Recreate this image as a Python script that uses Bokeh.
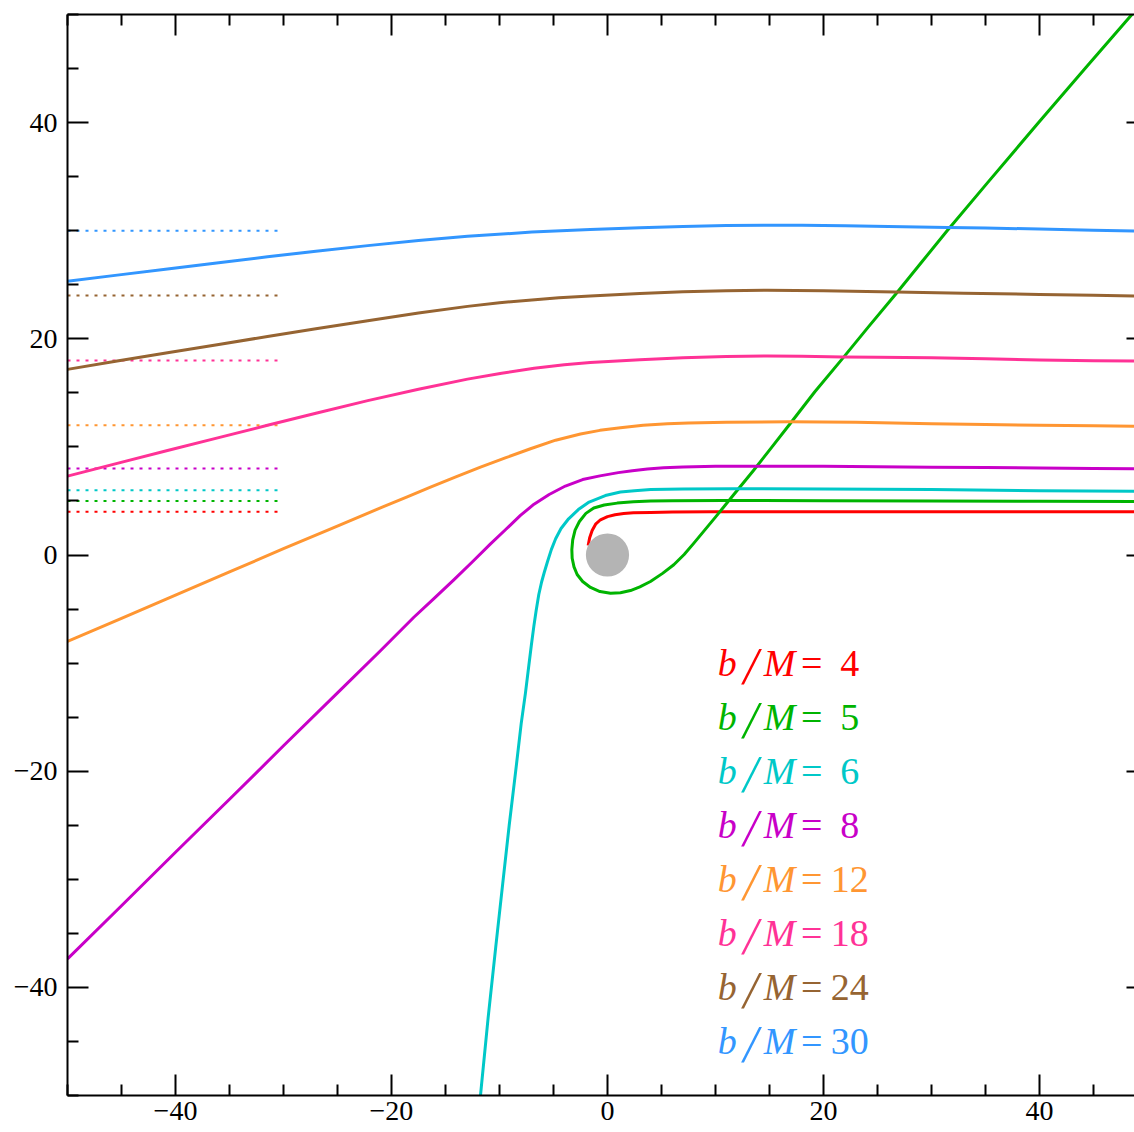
from bokeh.plotting import figure
from bokeh.models import Range1d, LinearAxis, FixedTicker, ColumnDataSource
from bokeh.embed import file_html
from bokeh.resources import INLINE
from bokeh.core.properties import value

# ---------------- data ----------------
impact = [4, 5, 6, 8, 12, 18, 24, 30]
colors = ["#ff0000", "#00b400", "#00c8c8", "#c800c8",
          "#ff9632", "#ff3296", "#966432", "#3296ff"]

tick_values = [-40, -20, 0, 20, 40]
tick_labels = ["\u221240", "\u221220", "0", "20", "40"]
minor_values = [-50, -45, -35, -30, -25, -15, -10, -5, 5, 10, 15, 25, 30, 35, 45, 50]

guide_x0 = [-50] * 8
guide_x1 = [-30] * 8

hole_x = [0.0]
hole_y = [0.0]
hole_r = 2.0

b4_x = [50, 30, 20, 9.5, 6.0, 4.0, 2.4, 1.5, 0.7, 0.0, -0.65, -1.1, -1.42,
        -1.65, -1.79]
b4_y = [4.0, 4.0, 4.0, 4.0, 3.97, 3.93, 3.9, 3.83, 3.72, 3.55, 3.26, 2.85,
        2.27, 1.6, 0.88]

b5_x = [50, 40, 30, 20, 10.7, 6.0, 4.0, 2.4, 0.9, -0.3, -1.27, -2.0, -2.6,
        -3.0, -3.22, -3.3, -3.27, -3.1, -2.81, -2.3, -1.57, -0.7, 0.28, 1.2,
        2.13, 3.0, 3.98, 5.1, 6.14, 7.1, 8.0, 9.0, 10.0, 11.7, 13.5, 15.2,
        16.8, 19.2, 21.7, 24.2, 26.7, 29.1, 31.45, 35.2, 40.0, 44.3, 48.6, 50.0]
b5_y = [4.95, 4.97, 5.0, 5.03, 5.05, 5.02, 5.0, 4.92, 4.8, 4.62, 4.35, 3.85,
        3.1, 2.3, 1.4, 0.5, -0.3, -1.1, -1.8, -2.45, -3.0, -3.38, -3.54, -3.5,
        -3.29, -2.95, -2.45, -1.7, -0.9, 0.05, 1.1, 2.3, 3.5, 5.6, 7.8, 9.95,
        12.0, 15.1, 18.1, 21.15, 24.15, 27.1, 30.0, 34.45, 40.1, 45.1, 50.05,
        51.7]

b6_x = [50, 40, 30, 20, 11.7, 7.0, 4.0, 2.5, 1.2, -0.2, -1.7, -2.7, -3.6,
        -4.3, -4.8, -5.2, -5.55, -5.85, -6.1, -6.36, -6.6, -6.82, -7.05, -7.28,
        -7.6, -7.99, -8.5, -9.1, -9.7, -10.35, -11.05, -11.76]
b6_y = [5.9, 5.95, 6.05, 6.1, 6.13, 6.1, 6.05, 5.95, 5.82, 5.5, 4.9, 4.2,
        3.35, 2.45, 1.5, 0.5, -0.6, -1.6, -2.5, -3.65, -5.1, -6.6, -8.35,
        -10.2, -12.8, -15.6, -20.0, -25.0, -30.4, -36.3, -42.8, -50.0]

b8_x = [50, 45, 40, 35, 30, 25, 20, 13.4, 10, 7.0, 5.2, 3.7, 2.3, 1.0, -0.7,
        -2.3, -3.9, -5.4, -6.8, -8.06, -9.4, -10.83, -12.5, -14.23, -16.1,
        -17.93, -21.0, -25.0, -30.0, -35.0, -40.0, -45.0, -50.0]
b8_y = [7.96, 8.0, 8.05, 8.09, 8.12, 8.17, 8.2, 8.22, 8.2, 8.15, 8.07, 7.95,
        7.8, 7.62, 7.32, 6.98, 6.38, 5.6, 4.7, 3.66, 2.38, 1.03, -0.62, -2.3,
        -4.05, -5.76, -8.84, -12.75, -17.65, -22.6, -27.5, -32.45, -37.36]

b12_x = [50, 45, 40, 35, 30, 23, 16.8, 11, 7.5, 5.55, 3.3, 1.2, -0.7, -2.5,
         -4.8, -7.13, -9.4, -11.76, -14.1, -16.39, -18.6, -20.8, -25.4, -30.0,
         -35.0, -40.0, -45.0, -50.0]
b12_y = [11.9, 11.95, 12.0, 12.08, 12.15, 12.27, 12.33, 12.28, 12.22, 12.15,
         12.0, 11.78, 11.53, 11.2, 10.62, 9.83, 9.0, 8.13, 7.2, 6.28, 5.35,
         4.45, 2.52, 0.58, -1.56, -3.72, -5.86, -8.0]

b18_x = [50, 45, 40, 35, 30, 25, 21.8, 18, 14.8, 11, 7.0, 3.0, -1.6, -4.0,
         -6.79, -9.8, -12.96, -17.5, -22.2, -27.0, -31.48, -36.0, -40.74,
         -45.4, -50.0]
b18_y = [17.92, 17.98, 18.05, 18.15, 18.25, 18.3, 18.32, 18.38, 18.41, 18.37,
         18.25, 18.07, 17.8, 17.6, 17.27, 16.82, 16.27, 15.34, 14.28, 13.12,
         12.0, 10.86, 9.66, 8.48, 7.3]

b24_x = [50, 45, 40, 33, 26.7, 20, 14.8, 11, 7.0, 3.0, -1.6, -4.5, -7.0,
         -10.0, -12.96, -17.5, -22.2, -27.0, -31.48, -36.0, -40.74, -45.4, -50.0]
b24_y = [23.95, 24.02, 24.1, 24.22, 24.33, 24.45, 24.49, 24.45, 24.35, 24.2,
         23.96, 23.79, 23.6, 23.33, 23.0, 22.38, 21.67, 20.93, 20.21, 19.48,
         18.71, 17.94, 17.17]

b30_x = [50, 45, 40, 35, 31.5, 26, 22.0, 18, 14.8, 11, 7.0, 3.0, -1.6, -7.0,
         -12.96, -17.5, -22.2, -27.0, -31.48, -36.0, -40.74, -45.4, -50.0]
b30_y = [29.95, 30.05, 30.15, 30.25, 30.3, 30.4, 30.45, 30.5, 30.5, 30.47,
         30.4, 30.27, 30.11, 29.87, 29.48, 29.09, 28.62, 28.1, 27.58, 27.04,
         26.46, 25.89, 25.33]

curves_x = [b4_x, b5_x, b6_x, b8_x, b12_x, b18_x, b24_x, b30_x]
curves_y = [b4_y, b5_y, b6_y, b8_y, b12_y, b18_y, b24_y, b30_y]

# ---------------- figure ----------------
FONT = "Liberation Serif"

p = figure(width=1134, height=1132,
           x_range=Range1d(-50, 48.8), y_range=Range1d(-50, 50),
           output_backend="svg", toolbar_location=None,
           min_border_left=67, min_border_right=0,
           min_border_top=14, min_border_bottom=37,
           x_axis_location=None, y_axis_location=None)
p.grid.visible = False
p.outline_line_color = None
p.background_fill_color = "white"
p.border_fill_color = "white"


def labelled_axis():
    ax = LinearAxis()
    ax.ticker = FixedTicker(ticks=tick_values, minor_ticks=minor_values)
    ax.major_tick_in = 21
    ax.major_tick_out = 0
    ax.minor_tick_in = 11
    ax.minor_tick_out = 0
    ax.major_tick_line_width = 2
    ax.minor_tick_line_width = 2
    ax.major_tick_line_color = "black"
    ax.minor_tick_line_color = "black"
    ax.axis_line_width = 2
    ax.axis_line_color = "black"
    ax.major_label_overrides = dict(zip(tick_values, tick_labels))
    ax.major_label_text_font = FONT
    ax.major_label_text_font_size = "28px"
    ax.major_label_text_color = "black"
    return ax


def tick_only_axis(positions, length, line):
    # axis without labels: ticks drawn as "minor" ticks only
    ax = LinearAxis()
    ax.ticker = FixedTicker(ticks=[], minor_ticks=positions)
    ax.major_tick_in = 0
    ax.major_tick_out = 0
    ax.minor_tick_in = length
    ax.minor_tick_out = 0
    ax.minor_tick_line_width = 2
    ax.minor_tick_line_color = "black"
    ax.major_label_standoff = 0
    ax.axis_line_width = 2
    ax.axis_line_color = "black" if line else None
    return ax


bottom = labelled_axis()
bottom.major_label_standoff = 6
p.add_layout(bottom, "below")

left = labelled_axis()
left.major_label_standoff = 10
p.add_layout(left, "left")

p.add_layout(tick_only_axis(minor_values, 11, True), "above")
p.add_layout(tick_only_axis(tick_values, 21, False), "above")
p.add_layout(tick_only_axis(tick_values, 8, False), "right")

# dotted guides at y = b
for b, c, x0, x1 in zip(impact, colors, guide_x0, guide_x1):
    p.segment(x0=[x0], y0=[b], x1=[x1], y1=[b], line_color=c,
              line_width=2, line_dash="3 6")

# photon trajectories
for xs, ys, c in zip(curves_x, curves_y, colors):
    p.line(xs, ys, line_color=c, line_width=3, line_join="round")

# black hole
p.circle(x=hole_x, y=hole_y, radius=hole_r, fill_color="#b4b4b4",
         line_color=None)

# labels b/M = ...
lab_src = ColumnDataSource(dict(
    x=[10.2] * len(impact),
    y=[-10 - 5 * i for i in range(len(impact))],
    num=["%2d" % b for b in impact],
    b=["b"] * len(impact),
    sl=["/"] * len(impact),
    M=["M"] * len(impact),
    eq=["="] * len(impact),
    col=colors,
))
common = dict(x="x", y="y", source=lab_src, text_color="col",
              text_font=value(FONT), text_baseline="alphabetic")
p.text(text="b", x_offset=0, text_align="left", text_font_style="italic",
       text_font_size="38px", **common)
p.text(text="sl", x_offset=33, y_offset=3, text_align="center",
       text_font_style="italic", text_font_size="52px", **common)
p.text(text="M", x_offset=46, text_align="left", text_font_style="italic",
       text_font_size="38px", **common)
p.text(text="eq", x_offset=94, text_align="center", text_font_size="38px",
       **common)
p.text(text="num", x_offset=151, text_align="right", text_font_size="38px",
       **common)

open("out.html", "w").write(file_html(p, INLINE))
